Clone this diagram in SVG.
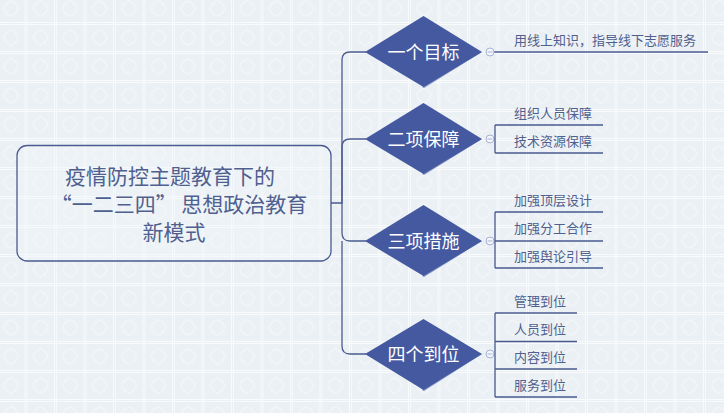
<svg xmlns="http://www.w3.org/2000/svg" width="724" height="413" viewBox="0 0 724 413">
<style>
.cn{font-family:"Noto Sans CJK SC","Liberation Sans",sans-serif;}
.root{fill:#4f5f8f;font-size:21px;}
.dia{fill:#4459a0;}
.dsh{fill:#8193c6;}
.dt{fill:#ffffff;font-size:18px;}
.sub{fill:#4f5f8f;font-size:13px;}
.ln{fill:none;stroke:#4a5b90;stroke-width:1.3;}
.tog{fill:#f4f6fb;stroke:#a6b4d6;stroke-width:1;}
.togm{stroke:#a6b4d6;stroke-width:1;}
</style>
<defs>
<pattern id="bg" x="-5" y="-7" width="29.5" height="29" patternUnits="userSpaceOnUse">
<rect width="29.5" height="29" fill="#ebf0f4"/>
<path d="M0 0.5H29.5M0 2.5H29.5M0.5 0V29M2.5 0V29" stroke="#f8fafc" stroke-width="1"/>
<circle cx="16" cy="15.5" r="7" fill="none" stroke="#f4f7f9" stroke-width="1.2"/>
<path d="M16 7L24 15.5L16 24L8 15.5Z" fill="none" stroke="#f2f5f8" stroke-width="1"/>
</pattern>
</defs>
<rect width="724" height="413" fill="url(#bg)"/>

<g id="connectors">
<path class="ln" d="M331 203H342V60Q342 52 350 52H366"/>
<path class="ln" d="M342 203V147Q342 139 350 139H366"/>
<path class="ln" d="M342 203V233Q342 241 350 241H366"/>
<path class="ln" d="M342 241V346Q342 354 350 354H366"/>
<path class="ln" d="M494 52H708"/>
<path class="ln" d="M494 139H495M495 125V153M495 125H603M495 153H603"/>
<path class="ln" d="M494 241H603M495 212V268M495 212H603M495 268H603"/>
<path class="ln" d="M494 354H495M495 313V397M495 313H577M495 341.5H577M495 369H577M495 397H577"/>
</g>

<g id="root">
<rect x="17" y="145.5" width="314" height="115.5" rx="10" fill="#f2f5f8" fill-opacity="0.35" stroke="#4a5b90" stroke-width="1.3"/>
<text class="cn root" x="170" y="184" text-anchor="middle">疫情防控主题教育下的</text>
<text class="cn root" x="179" y="212" text-anchor="middle">“一二三四” 思想政治教育</text>
<text class="cn root" x="174" y="240" text-anchor="middle">新模式</text>
</g>

<g id="n1">
<path class="dsh" d="M482 52L424 88L422 87L480 52Z"/>
<path class="dia" d="M423.5 16L482 52L423.5 87L365 52Z"/>
<text class="cn dt" x="423.5" y="58.5" text-anchor="middle">一个目标</text>
<circle class="tog" cx="490" cy="52" r="4"/><path class="togm" d="M487.5 52H492.5"/>
</g>
<g id="n2">
<path class="dsh" d="M482 139L424 175L422 174L480 139Z"/>
<path class="dia" d="M423.5 103L482 139L423.5 174L365 139Z"/>
<text class="cn dt" x="423.5" y="145.5" text-anchor="middle">二项保障</text>
<circle class="tog" cx="490" cy="139" r="4"/><path class="togm" d="M487.5 139H492.5"/>
</g>
<g id="n3">
<path class="dsh" d="M482 241L424 277L422 276L480 241Z"/>
<path class="dia" d="M423.5 205L482 241L423.5 276L365 241Z"/>
<text class="cn dt" x="423.5" y="247.5" text-anchor="middle">三项措施</text>
<circle class="tog" cx="490" cy="241" r="4"/><path class="togm" d="M487.5 241H492.5"/>
</g>
<g id="n4">
<path class="dsh" d="M482 354L424 391L422 390L480 354Z"/>
<path class="dia" d="M423.5 319L482 354L423.5 390L365 354Z"/>
<text class="cn dt" x="423.5" y="360.5" text-anchor="middle">四个到位</text>
<circle class="tog" cx="490" cy="354" r="4"/><path class="togm" d="M487.5 354H492.5"/>
</g>

<g id="c1"><text class="cn sub" x="514" y="45">用线上知识，指导线下志愿服务</text></g>
<g id="c2a"><text class="cn sub" x="514" y="118">组织人员保障</text></g>
<g id="c2b"><text class="cn sub" x="514" y="146">技术资源保障</text></g>
<g id="c3a"><text class="cn sub" x="514" y="205">加强顶层设计</text></g>
<g id="c3b"><text class="cn sub" x="514" y="233">加强分工合作</text></g>
<g id="c3c"><text class="cn sub" x="514" y="261">加强舆论引导</text></g>
<g id="c4a"><text class="cn sub" x="514" y="306">管理到位</text></g>
<g id="c4b"><text class="cn sub" x="514" y="334">人员到位</text></g>
<g id="c4c"><text class="cn sub" x="514" y="362">内容到位</text></g>
<g id="c4d"><text class="cn sub" x="514" y="390">服务到位</text></g>
</svg>
